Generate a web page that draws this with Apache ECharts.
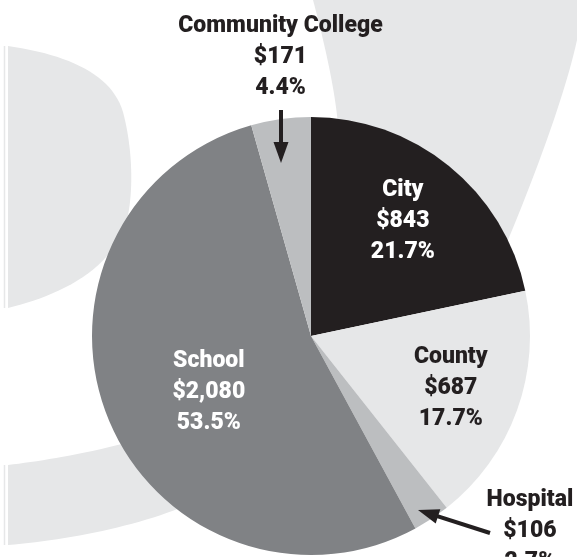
<!DOCTYPE html>
<html>
<head>
<meta charset="utf-8">
<script src="https://cdn.jsdelivr.net/npm/echarts@6/dist/echarts.min.js"></script>
<style>
  html, body { margin: 0; padding: 0; background: #ffffff; }
  #chart { width: 577px; height: 557px; }
</style>
</head>
<body>
<div id="chart"></div>
<script>
// ---- data ----
const categories = ['City', 'County', 'Hospital', 'School', 'Community College'];
const amounts = [843, 687, 106, 2080, 171];
const amountLabels = ['$843', '$687', '$106', '$2,080', '$171'];
const percentLabels = ['21.7%', '17.7%', '2.7%', '53.5%', '4.4%'];

// ---- styles ----
const sliceColors = ['#231f20', '#e6e7e8', '#bcbec0', '#808285', '#bcbec0'];
const labelColors = ['#ffffff', '#231f20', '#231f20', '#ffffff', '#231f20'];
const labelOffsets = [[21, -27], [34, 14], [157, 101], [2, 14], [-15, -167]];
const bgGray = '#e6e7e8';
const ink = '#231f20';
const FONT = 'Roboto, "DejaVu Sans Condensed", sans-serif';

const chart = echarts.init(document.getElementById('chart'), null, { renderer: 'canvas' });

const pieData = categories.map((name, i) => ({
  name: name,
  value: amounts[i],
  itemStyle: { color: sliceColors[i] },
  label: { color: labelColors[i] }
}));

// decorative background: sample segments (start point, then ['C', c1, c2, end] or ['L', end])
function sampleShape(start, segs) {
  const pts = [start.slice()];
  let cur = start;
  segs.forEach(s => {
    if (s[0] === 'L') { pts.push(s[1].slice()); cur = s[1]; }
    else {
      const c1 = s[1], c2 = s[2], e = s[3];
      for (let k = 1; k <= 24; k++) {
        const t = k / 24, mt = 1 - t;
        pts.push([
          mt * mt * mt * cur[0] + 3 * mt * mt * t * c1[0] + 3 * mt * t * t * c2[0] + t * t * t * e[0],
          mt * mt * mt * cur[1] + 3 * mt * mt * t * c1[1] + 3 * mt * t * t * c2[1] + t * t * t * e[1]
        ]);
      }
      cur = e;
    }
  });
  return pts;
}

function arrowHead(tip, from, len, half) {
  const dx = tip[0] - from[0], dy = tip[1] - from[1];
  const L = Math.sqrt(dx * dx + dy * dy);
  const ux = dx / L, uy = dy / L;
  const bx = tip[0] - ux * len, by = tip[1] - uy * len;
  const px = -uy * half, py = ux * half;
  return [[tip[0], tip[1]], [bx + px, by + py], [bx - px, by - py]];
}
function shaftEnd(tip, from, back) {
  const dx = tip[0] - from[0], dy = tip[1] - from[1];
  const L = Math.sqrt(dx * dx + dy * dy);
  return [tip[0] - dx / L * back, tip[1] - dy / L * back];
}

const shapeLeft = sampleShape([8, 46], [
  ['C', [70, 55], [112, 75], [123, 112]],
  ['C', [133, 150], [133, 190], [128, 215]],
  ['C', [115, 270], [60, 295], [8, 308]]
]);
const shapeBand = sampleShape([8, 465], [
  ['C', [50, 460], [110, 450], [190, 425]],
  ['L', [300, 400]], ['L', [300, 470]], ['L', [180, 508]],
  ['C', [130, 528], [60, 541], [8, 545]]
]);
const shapeRight = sampleShape([313, 0], [
  ['C', [325, 45], [335, 90], [338, 125]],
  ['L', [400, 250]], ['L', [508, 240]],
  ['C', [535, 175], [565, 95], [577, 40]],
  ['L', [577, 0]]
]);

const ccTip = [281, 163], ccFrom = [281, 110];
const hosTip = [418, 510], hosFrom = [490, 533];
const ccEnd = shaftEnd(ccTip, ccFrom, 12);
const hosEnd = shaftEnd(hosTip, hosFrom, 12);

const option = {
  backgroundColor: '#ffffff',
  animation: false,
  graphic: [
    { type: 'polygon', z: 0, silent: true, shape: { points: shapeLeft }, style: { fill: bgGray } },
    { type: 'polygon', z: 0, silent: true, shape: { points: shapeBand }, style: { fill: bgGray } },
    { type: 'polygon', z: 0, silent: true, shape: { points: shapeRight }, style: { fill: bgGray } },
    { type: 'line', z: 0, silent: true, shape: { x1: 4.5, y1: 46, x2: 4.5, y2: 308 },
      style: { stroke: bgGray, lineWidth: 1.5 } },
    { type: 'line', z: 0, silent: true, shape: { x1: 4.5, y1: 465, x2: 4.5, y2: 545 },
      style: { stroke: bgGray, lineWidth: 1.5 } },
    // arrows
    { type: 'line', z: 10, silent: true,
      shape: { x1: ccFrom[0], y1: ccFrom[1], x2: ccEnd[0], y2: ccEnd[1] },
      style: { stroke: ink, lineWidth: 4 } },
    { type: 'polygon', z: 10, silent: true,
      shape: { points: arrowHead(ccTip, ccFrom, 21, 7.5) }, style: { fill: ink } },
    { type: 'line', z: 10, silent: true,
      shape: { x1: hosFrom[0], y1: hosFrom[1], x2: hosEnd[0], y2: hosEnd[1] },
      style: { stroke: ink, lineWidth: 4 } },
    { type: 'polygon', z: 10, silent: true,
      shape: { points: arrowHead(hosTip, hosFrom, 21, 7.5) }, style: { fill: ink } }
  ],
  series: [{
    type: 'pie',
    z: 2,
    silent: true,
    center: [311, 336],
    radius: 219,
    startAngle: 90,
    clockwise: true,
    avoidLabelOverlap: false,
    itemStyle: { borderWidth: 0 },
    label: {
      show: true,
      position: 'inside',
      fontFamily: FONT,
      fontWeight: 900,
      fontSize: 23,
      lineHeight: 31,
      align: 'center',
      formatter: (p) => categories[p.dataIndex] + '\n' + amountLabels[p.dataIndex] + '\n' + percentLabels[p.dataIndex]
    },
    labelLine: { show: false },
    labelLayout: (p) => ({ dx: labelOffsets[p.dataIndex][0], dy: labelOffsets[p.dataIndex][1] }),
    emphasis: { disabled: true },
    data: pieData
  }]
};

chart.setOption(option);
</script>
</body>
</html>
